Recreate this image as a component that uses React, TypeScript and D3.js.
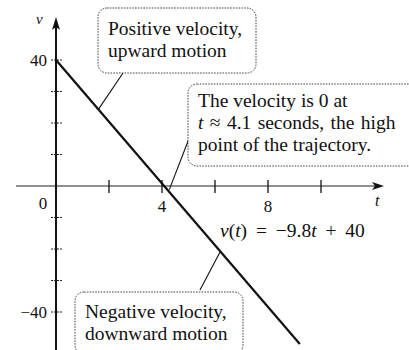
import React from "react";
import * as d3 from "d3";

// Velocity of a projectile launched upward: v(t) = -9.8t + 40
const slope = -9.8;
const intercept = 40;
const lineT = [0, 9.2];

const xTicks = [2, 4, 6, 8, 10];
const xTickLabels = [
  { t: 4, text: "4" },
  { t: 8, text: "8" },
];
const yTicks = [40, 30, 20, 10, -10, -20, -30, -40];
const yTickLabels = [
  { v: 40, text: "40" },
  { v: -40, text: "\u221240" },
];

const W = 409;
const H = 350;
const FONT = "'Liberation Serif', 'Times New Roman', Times, serif";

export default function App() {
  const x = d3.scaleLinear().domain([0, 10]).range([56, 321]);
  const y = d3.scaleLinear().domain([40, -40]).range([60, 312]);

  const pts: [number, number][] = lineT.map((t) => [x(t), y(slope * t + intercept)]);
  const linePath = d3.line()(pts) || "";

  const tZero = -intercept / slope;
  const onLine = (t: number): [number, number] => [x(t), y(slope * t + intercept)];

  const p1 = onLine(1.6);
  const p2 = onLine(4.2);
  const p3 = onLine(6.2);

  const boxStyle = {
    fill: "white",
    stroke: "#333",
    strokeWidth: 0.9,
    strokeDasharray: "1.6 1.2",
  };
  const fs = 19.5;

  return (
    <svg
      width={W}
      height={H}
      viewBox={`0 0 ${W} ${H}`}
      fill="#111"
      style={{ position: "absolute", left: 0, top: 0, background: "white", fontFamily: FONT }}
    >
      {/* axes */}
      <line x1={16} x2={378} y1={y(0)} y2={y(0)} stroke="#222" strokeWidth={1.2} />
      <path d={`M384,${y(0)} L372,${y(0) - 4} L375,${y(0)} L372,${y(0) + 4} Z`} fill="#111" />
      <line x1={x(0)} x2={x(0)} y1={H} y2={24} stroke="#111" strokeWidth={2} />
      <path d={`M${x(0)},17 L${x(0) - 4},30 L${x(0)},27 L${x(0) + 4},30 Z`} fill="#111" />

      {xTicks.map((t) => (
        <line key={t} x1={x(t)} x2={x(t)} y1={y(0) - 6} y2={y(0) + 7} stroke="#111" strokeWidth={1.3} />
      ))}
      {yTicks.map((v) => (
        <line key={v} x1={x(0) - 5} x2={x(0) + 6} y1={y(v)} y2={y(v)} stroke="#222" strokeWidth={1} strokeDasharray="2 1" />
      ))}

      {/* tick labels */}
      {xTickLabels.map((d) => (
        <text key={d.text} x={x(d.t)} y={y(0) + 26} textAnchor="middle" fontSize={17}>
          {d.text}
        </text>
      ))}
      <text x={43} y={y(0) + 23} textAnchor="middle" fontSize={17}>0</text>
      {yTickLabels.map((d) => (
        <text key={d.text} x={47} y={y(d.v) + 6} textAnchor="end" fontSize={17}>
          {d.text}
        </text>
      ))}
      <text x={36} y={24} fontSize={15} fontStyle="italic">v</text>
      <text x={375} y={206} fontSize={16} fontStyle="italic">t</text>

      {/* velocity line */}
      <path d={linePath} fill="none" stroke="#111" strokeWidth={2.2} />

      {/* equation label */}
      <text x={220} y={237} fontSize={fs} wordSpacing={4}>
        <tspan fontStyle="italic">v</tspan>(<tspan fontStyle="italic">t</tspan>) = {"\u2212"}9.8<tspan fontStyle="italic">t</tspan> + 40
      </text>

      {/* callout: positive velocity */}
      <line x1={123} y1={73} x2={p1[0]} y2={p1[1]} stroke="#111" strokeWidth={1.1} />
      <rect x={98} y={8} width={158} height={65} rx={9} style={boxStyle} />
      <text x={108} y={35} fontSize={fs}>Positive velocity,</text>
      <text x={108} y={57} fontSize={fs}>upward motion</text>

      {/* callout: zero velocity at the high point */}
      <line x1={190} y1={136} x2={p2[0] + 2} y2={p2[1]} stroke="#111" strokeWidth={1.1} />
      <rect x={188} y={84} width={240} height={82} rx={9} style={boxStyle} />
      <text x={198} y={107} fontSize={fs}>The velocity is 0 at</text>
      <text x={198} y={129} fontSize={fs} wordSpacing={1.5}>
        <tspan fontStyle="italic">t</tspan> {"\u2248"} {tZero.toFixed(1)} seconds, the high
      </text>
      <text x={198} y={151} fontSize={fs}>point of the trajectory.</text>

      {/* callout: negative velocity */}
      <line x1={200} y1={290} x2={p3[0]} y2={p3[1]} stroke="#111" strokeWidth={1.1} />
      <rect x={75} y={292} width={168} height={62} rx={9} style={boxStyle} />
      <text x={85} y={318} fontSize={fs}>Negative velocity,</text>
      <text x={85} y={340} fontSize={fs}>downward motion</text>
    </svg>
  );
}
